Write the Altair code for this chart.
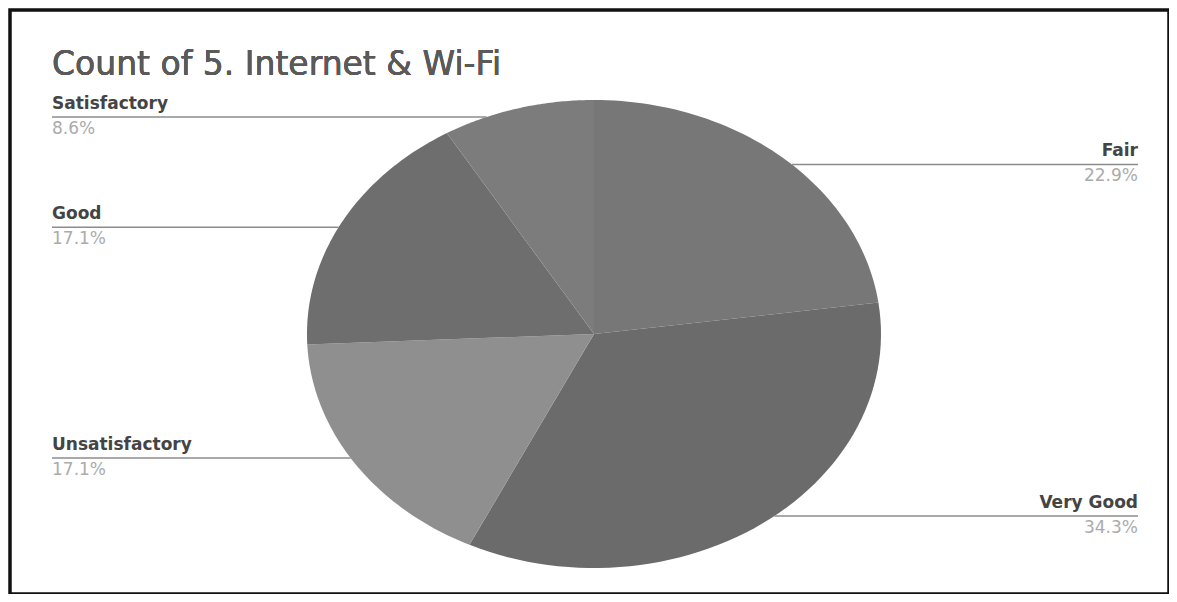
import altair as alt
import pandas as pd

# ---- data ----
categories = ["Fair", "Very Good", "Unsatisfactory", "Good", "Satisfactory"]
counts = [8, 12, 6, 6, 3]
slice_colors = ["#777777", "#6b6b6b", "#8f8f8f", "#6e6e6e", "#7c7c7c"]
title_text = "Count of 5. Internet & Wi-Fi"

df = pd.DataFrame({"category": categories, "count": counts, "idx": list(range(len(categories)))})

# ---- layout (pixels) ----
W, H = 1159, 584
PADL, PADT = 2, 2
OX, OY = 8 + PADL, 8 + PADT
ell_left, ell_top = 307 - OX, 100 - OY
ppu_x, ppu_y = 287.0, 234.0
x0 = -1 - ell_left / ppu_x
x1 = x0 + W / ppu_x
y1 = 1 + ell_top / ppu_y
y0 = y1 - H / ppu_y
lab_left = x0 + (52 - OX) / ppu_x
lab_right = x0 + (1138 - OX) / ppu_x
LABEL_R = 0.962

xs = alt.Scale(domain=[x0, x1], nice=False, zero=False)
ys = alt.Scale(domain=[y0, y1], nice=False, zero=False)
color = alt.Color("category:N", scale=alt.Scale(domain=categories, range=slice_colors), legend=None)

base = (
    alt.Chart(df)
    .transform_joinaggregate(total="sum(count)")
    .transform_window(cum="sum(count)", sort=[alt.SortField("idx")], frame=[None, 0])
    .transform_calculate(
        a1="2*PI*datum.cum/datum.total",
        a0="2*PI*(datum.cum-datum['count'])/datum.total",
        pct="format(datum['count']/datum.total*100, '.1f') + '%'",
    )
    .transform_calculate(mid="(datum.a0+datum.a1)/2")
    .transform_calculate(ey=f"{LABEL_R}*cos(datum.mid)", side="sin(datum.mid) > 0 ? 1 : -1")
    .transform_calculate(ex="datum.side*sqrt(1-datum.ey*datum.ey)")
    .transform_calculate(lx=f"datum.side > 0 ? {lab_right} : {lab_left}")
)

pie = (
    base.transform_calculate(steps="sequence(-1, 61)")
    .transform_flatten(["steps"], as_=["step"])
    .transform_calculate(ang="datum.a0 + (datum.a1-datum.a0)*max(datum.step,0)/60")
    .transform_calculate(
        px="datum.step < 0 ? 0 : sin(datum.ang)",
        py="datum.step < 0 ? 0 : cos(datum.ang)",
    )
    .mark_line(filled=True, interpolate="linear", strokeWidth=0)
    .encode(
        x=alt.X("px:Q", scale=xs, axis=None),
        y=alt.Y("py:Q", scale=ys, axis=None),
        color=color,
        order=alt.Order("step:Q"),
    )
)

rules = base.mark_rule(color="#8c8c8c", strokeWidth=1.5).encode(
    x=alt.X("ex:Q", scale=xs, axis=None),
    x2="lx:Q",
    y=alt.Y("ey:Q", scale=ys, axis=None),
)

def labels(side_filter, align):
    b = base.transform_filter(side_filter)
    name = b.mark_text(align=align, baseline="bottom", dy=-4, fontSize=17, fontWeight="bold",
                       font="DejaVu Sans", color="#444444").encode(
        x=alt.X("lx:Q", scale=xs, axis=None), y=alt.Y("ey:Q", scale=ys, axis=None), text="category:N")
    pct = b.mark_text(align=align, baseline="top", dy=4, fontSize=17,
                      font="DejaVu Sans", color="#ababab").encode(
        x=alt.X("lx:Q", scale=xs, axis=None), y=alt.Y("ey:Q", scale=ys, axis=None), text="pct:N")
    return name + pct

left = labels("datum.side < 0", "left")
right = labels("datum.side > 0", "right")

title = alt.Chart(df).mark_text(
    align="left", baseline="alphabetic", fontSize=33, font="DejaVu Sans", color="#5a5a5a"
).encode(x=alt.value(52 - OX), y=alt.value(75 - OY), text=alt.value(title_text))

chart = (
    alt.layer(pie, rules, left, right, title)
    .properties(width=W, height=H, padding={"left": PADL, "top": PADT, "right": 0, "bottom": 0},
                autosize=alt.AutoSizeParams(type="none"))
    .configure_view(stroke="#111111", strokeWidth=3.5)
)

chart.save("out.html", embed_options={"renderer": "svg", "actions": False})
